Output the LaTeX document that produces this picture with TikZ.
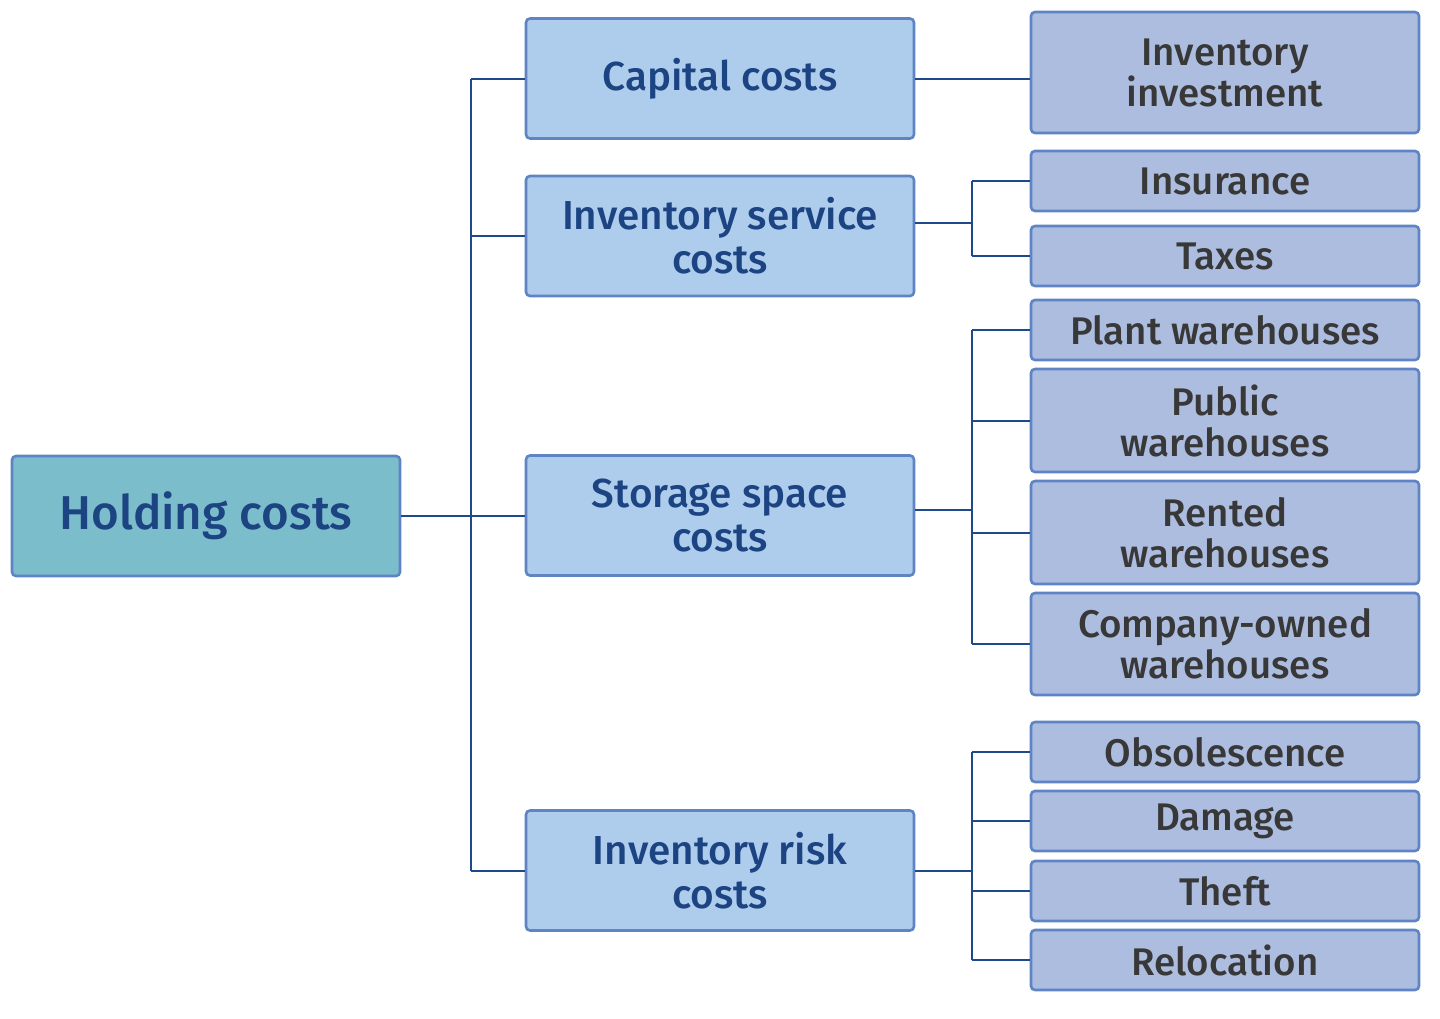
\documentclass[tikz,border=0pt]{standalone}
\usepackage{fontspec}
\setmainfont{Fira Sans}[UprightFont=* Medium]
\definecolor{linec}{HTML}{1F4A8A}
\definecolor{bordc}{HTML}{5E84C4}
\definecolor{rootf}{HTML}{7CBDCC}
\definecolor{midf}{HTML}{AECCEC}
\definecolor{leaff}{HTML}{ADBDE0}
\definecolor{darkt}{HTML}{1C4382}
\definecolor{grayt}{HTML}{383838}
\tikzset{
  box/.style={draw=bordc, line width=2.6pt, rounded corners=4pt, inner sep=0pt, align=center, minimum width=388pt},
  rootbox/.style={box, fill=rootf, text=darkt, minimum height=120pt, font=\fontsize{47.5}{52}\selectfont},
  midbox/.style={box, fill=midf, text=darkt, minimum height=120pt, font=\fontsize{40.5}{44}\selectfont},
  leafbox/.style={box, fill=leaff, text=grayt, font=\fontsize{38.5}{41}\selectfont},
  conn/.style={draw=linec, line width=2pt}
}
\begin{document}
\begin{tikzpicture}[x=1pt,y=-1pt]
\useasboundingbox (0,0) rectangle (1440,1018);
\node[rootbox] (hold) at (206,516) {Holding costs};
\node[midbox] (cap) at (720,78.5) {Capital costs};
\node[midbox] (svc) at (720,236) {Inventory service\\costs};
\node[midbox] (sto) at (720,515.5) {Storage space\\costs};
\node[midbox] (risk) at (720,870.5) {Inventory risk\\costs};
\node[leafbox, minimum height=121pt] (inv) at (1225,72.5) {Inventory\\investment};
\node[leafbox, minimum height=60pt] (ins) at (1225,181) {Insurance};
\node[leafbox, minimum height=60pt] (tax) at (1225,256) {Taxes};
\node[leafbox, minimum height=60pt] (plant) at (1225,330) {Plant warehouses};
\node[leafbox, minimum height=103pt] (pub) at (1225,420.5) {Public\\warehouses};
\node[leafbox, minimum height=103pt] (rent) at (1225,532.5) {Rented\\warehouses};
\node[leafbox, minimum height=102pt] (comp) at (1225,644) {Company-owned\\warehouses};
\node[leafbox, minimum height=60pt] (obs) at (1225,752) {Obsolescence};
\node[leafbox, minimum height=60pt] (dam) at (1225,821) {Damage};
\node[leafbox, minimum height=60pt] (theft) at (1225,891) {Theft};
\node[leafbox, minimum height=60pt] (reloc) at (1225,960) {Relocation};
\coordinate (jx) at (471,0);
\coordinate (kx) at (972,0);
% root to middle
\draw[conn] (hold.east) -- (hold.east -| jx);
\draw[conn] (jx |- cap.west) -- (jx |- risk.west);
\foreach \n in {cap,svc,sto,risk} \draw[conn] (jx |- \n.west) -- (\n.west);
% capital
\draw[conn] (cap.east) -- (cap.east -| inv.west);
% service
\draw[conn] ([yshift=13pt]svc.east) -- ([yshift=13pt]svc.east -| kx);
\draw[conn] (kx |- ins.west) -- (kx |- tax.west);
\foreach \n in {ins,tax} \draw[conn] (kx |- \n.west) -- (\n.west);
% storage
\draw[conn] ([yshift=5.5pt]sto.east) -- ([yshift=5.5pt]sto.east -| kx);
\draw[conn] (kx |- plant.west) -- (kx |- comp.west);
\foreach \n in {plant,pub,rent,comp} \draw[conn] (kx |- \n.west) -- (\n.west);
% risk
\draw[conn] (risk.east) -- (risk.east -| kx);
\draw[conn] (kx |- obs.west) -- (kx |- reloc.west);
\foreach \n in {obs,dam,theft,reloc} \draw[conn] (kx |- \n.west) -- (\n.west);
\end{tikzpicture}
\end{document}
